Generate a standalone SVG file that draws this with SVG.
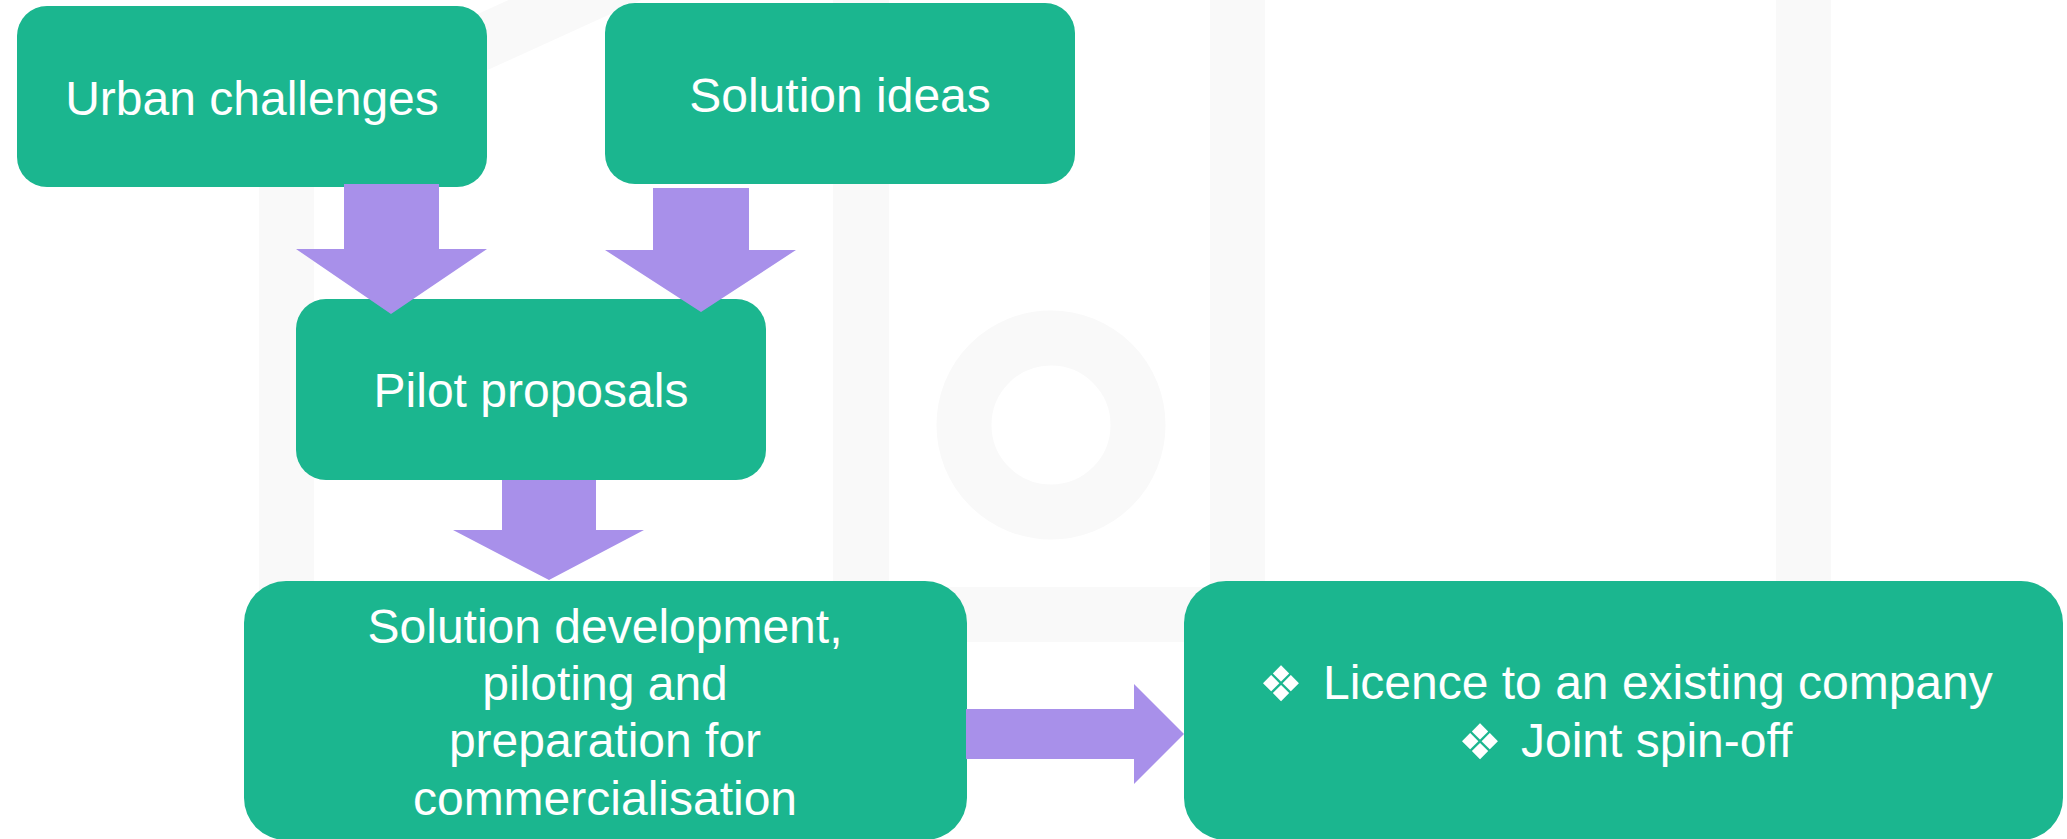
<svg xmlns="http://www.w3.org/2000/svg" width="2067" height="839" viewBox="0 0 2067 839">
  <style>
    .wm { fill: #F9F9F9; }
    .wms { fill: none; stroke: #F9F9F9; stroke-width: 55; }
    .box { fill: #1BB68F; }
    .arrow { fill: #A890EA; }
    .lbl { font-family: "Liberation Sans", Arial, sans-serif; font-size: 48px; fill: #FFFFFF; text-anchor: middle; }
    .lft { text-anchor: start; }
    .bul { font-family: "DejaVu Sans", sans-serif; font-size: 49px; }
  </style>
  <rect x="0" y="0" width="2067" height="839" fill="#FFFFFF"/>
  <g id="watermark">
    <rect class="wm" x="259" y="100" width="55" height="490"/>
    <line class="wms" x1="250" y1="148" x2="700" y2="-57"/>
    <rect class="wm" x="833" y="0" width="56" height="600"/>
    <rect class="wm" x="833" y="587" width="432" height="55"/>
    <circle class="wms" cx="1051" cy="425" r="87"/>
    <rect class="wm" x="1210" y="0" width="55" height="642"/>
    <rect class="wm" x="1776" y="0" width="55" height="600"/>
  </g>
  <g id="node-urban">
    <rect class="box" x="17" y="6" width="470" height="181" rx="30" ry="30"/>
    <text class="lbl" x="252" y="115">Urban challenges</text>
  </g>
  <g id="node-solution-ideas">
    <rect class="box" x="605" y="3" width="470" height="181" rx="30" ry="30"/>
    <text class="lbl" x="840" y="112">Solution ideas</text>
  </g>
  <g id="node-pilot">
    <rect class="box" x="296" y="299" width="470" height="181" rx="30" ry="30"/>
    <text class="lbl" x="531" y="407">Pilot proposals</text>
  </g>
  <g id="node-development">
    <rect class="box" x="244" y="581" width="723" height="259" rx="42" ry="42"/>
    <text class="lbl" x="605" y="643">Solution development,</text>
    <text class="lbl" x="605" y="700">piloting and</text>
    <text class="lbl" x="605" y="757">preparation for</text>
    <text class="lbl" x="605" y="815">commercialisation</text>
  </g>
  <g id="node-outcomes">
    <rect class="box" x="1184" y="581" width="879" height="259" rx="42" ry="42"/>
    <text class="lbl lft" y="699"><tspan class="bul" x="1259" dy="2">❖</tspan><tspan x="1323" dy="-2">Licence to an existing company</tspan></text>
    <text class="lbl lft" y="757"><tspan class="bul" x="1458" dy="2">❖</tspan><tspan x="1521" dy="-2">Joint spin-off</tspan></text>
  </g>
  <g id="connectors">
    <polygon class="arrow" points="344,184 439,184 439,249 487,249 391,314 296,249 344,249"/>
    <polygon class="arrow" points="653,188 749,188 749,250 796,250 701,312 605,250 653,250"/>
    <polygon class="arrow" points="502,480 596,480 596,530 644,530 549,580 453,530 502,530"/>
    <polygon class="arrow" points="966,709 1134,709 1134,684 1184,734 1134,784 1134,759 966,759"/>
  </g>
</svg>
